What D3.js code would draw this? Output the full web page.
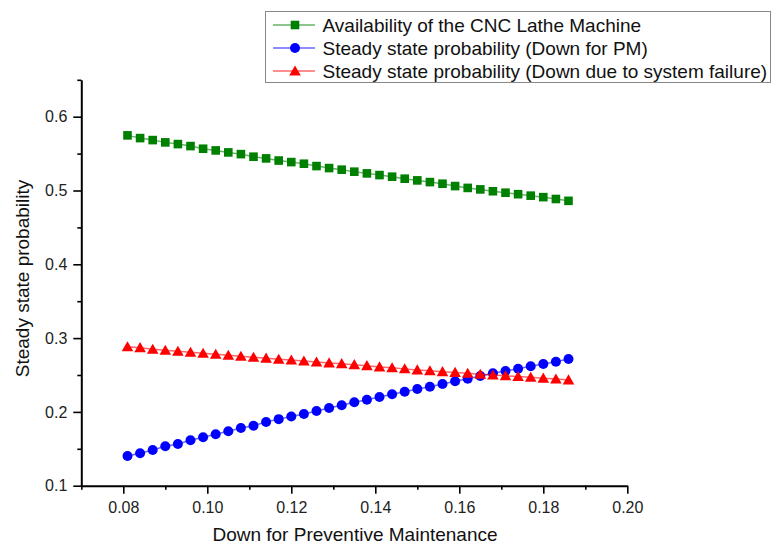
<!DOCTYPE html>
<html>
<head>
<meta charset="utf-8">
<script src="https://cdn.jsdelivr.net/npm/d3@7/dist/d3.min.js"></script>
<style>
  html, body { margin: 0; padding: 0; background: #fff; }
  svg { display: block; }
  text { font-family: "Liberation Sans", Arial, sans-serif; }
</style>
</head>
<body>
<svg id="chart" width="772" height="545"></svg>
<script>
// ---- Data ----
const xValues = [0.081, 0.084, 0.087, 0.090, 0.093, 0.096, 0.099, 0.102, 0.105, 0.108,
                 0.111, 0.114, 0.117, 0.120, 0.123, 0.126, 0.129, 0.132, 0.135, 0.138,
                 0.141, 0.144, 0.147, 0.150, 0.153, 0.156, 0.159, 0.162, 0.165, 0.168,
                 0.171, 0.174, 0.177, 0.180, 0.183, 0.186];

const availability = [0.5747, 0.5710, 0.5683, 0.5652, 0.5629, 0.5602, 0.5566, 0.5543, 0.5516, 0.5493,
                      0.5458, 0.5435, 0.5406, 0.5385, 0.5363, 0.5331, 0.5304, 0.5282, 0.5255, 0.5232,
                      0.5209, 0.5187, 0.5160, 0.5137, 0.5114, 0.5092, 0.5060, 0.5035, 0.5015, 0.4990,
                      0.4970, 0.4950, 0.4930, 0.4910, 0.4885, 0.4860];

const downPM = [0.1402, 0.1439, 0.1484, 0.1534, 0.1565, 0.1615, 0.1656, 0.1696, 0.1737, 0.1782,
                0.1813, 0.1863, 0.1902, 0.1938, 0.1972, 0.2012, 0.2053, 0.2089, 0.2130, 0.2165,
                0.2202, 0.2238, 0.2274, 0.2310, 0.2341, 0.2378, 0.2415, 0.2450, 0.2487, 0.2523,
                0.2554, 0.2585, 0.2618, 0.2649, 0.2680, 0.2717];

const downFailure = [0.2883, 0.2870, 0.2848, 0.2835, 0.2821, 0.2808, 0.2794, 0.2780, 0.2767, 0.2753,
                     0.2740, 0.2728, 0.2712, 0.2703, 0.2690, 0.2676, 0.2663, 0.2653, 0.2640, 0.2626,
                     0.2610, 0.2597, 0.2583, 0.2569, 0.2556, 0.2545, 0.2535, 0.2523, 0.2510, 0.2500,
                     0.2490, 0.2480, 0.2468, 0.2457, 0.2446, 0.2433];

const xTicks = [0.08, 0.10, 0.12, 0.14, 0.16, 0.18, 0.20];
const xMinorTicks = [0.07, 0.09, 0.11, 0.13, 0.15, 0.17, 0.19];
const yTicks = [0.1, 0.2, 0.3, 0.4, 0.5, 0.6];
const yMinorTicks = [0.15, 0.25, 0.35, 0.45, 0.55, 0.65];

const seriesNames = ["Availability of the CNC Lathe Machine",
                     "Steady state probability (Down for PM)",
                     "Steady state probability (Down due to system failure)"];
const seriesColors = ["#008000", "#0000ff", "#ff0000"];
const seriesShapes = ["square", "circle", "triangle"];

// ---- Layout ----
const svg = d3.select("#chart");
const x = d3.scaleLinear().domain([0.07, 0.20]).range([81.3, 627.3]);
const y = d3.scaleLinear().domain([0.1, 0.65]).range([485.7, 79.8]);

const series = [availability, downPM, downFailure].map((vals, i) => ({
  name: seriesNames[i], color: seriesColors[i], shape: seriesShapes[i],
  points: vals.map((v, j) => ({ x: xValues[j], y: v }))
}));

function drawMarker(g, shape, color) {
  if (shape === "square") {
    g.append("rect").attr("x", -4.3).attr("y", -4.3).attr("width", 8.6).attr("height", 8.6).attr("fill", color);
  } else if (shape === "circle") {
    g.append("circle").attr("r", 5).attr("fill", color);
  } else {
    g.append("path").attr("d", "M0,-5.6L5.8,4.5L-5.8,4.5Z").attr("fill", color);
  }
}

// ---- Axes ----
const fontTick = "16px";
svg.append("g").attr("transform", `translate(0,${y(0.1)})`)
  .call(d3.axisBottom(x).tickValues(xTicks).tickFormat(d3.format(".2f")).tickSize(8).tickPadding(8).tickSizeOuter(0));
svg.append("g").attr("transform", `translate(0,${y(0.1)})`)
  .call(d3.axisBottom(x).tickValues(xMinorTicks).tickFormat("").tickSize(4).tickSizeOuter(0))
  .select(".domain").remove();

svg.append("g").attr("transform", `translate(${x(0.07)},0)`)
  .call(d3.axisLeft(y).tickValues(yTicks).tickFormat(d3.format(".1f")).tickSize(8).tickPadding(6).tickSizeOuter(0));
svg.append("g").attr("transform", `translate(${x(0.07)},0)`)
  .call(d3.axisLeft(y).tickValues(yMinorTicks).tickFormat("").tickSize(4).tickSizeOuter(0))
  .select(".domain").remove();

svg.selectAll(".domain").attr("stroke", "#000").attr("stroke-width", 2);
svg.selectAll(".tick line").attr("stroke", "#000").attr("stroke-width", 1.6);
svg.selectAll(".tick text").attr("fill", "#222").style("font-size", fontTick)
  .style("font-family", '"Liberation Sans", Arial, sans-serif');

// Axis titles
svg.append("text")
  .attr("x", 355).attr("y", 541)
  .attr("text-anchor", "middle")
  .style("font-size", "19px").attr("fill", "#111")
  .text("Down for Preventive Maintenance");

svg.append("text")
  .attr("transform", "translate(28.5,278.5) rotate(-90)")
  .attr("text-anchor", "middle")
  .style("font-size", "19px").attr("fill", "#111")
  .text("Steady state probability");

// ---- Series ----
const line = d3.line().x(d => x(d.x)).y(d => y(d.y));
series.forEach(s => {
  svg.append("path").datum(s.points)
    .attr("d", line).attr("fill", "none")
    .attr("stroke", s.color).attr("stroke-width", 1.5).attr("stroke-opacity", 0.6);
  const mg = svg.append("g");
  s.points.forEach(p => {
    const g = mg.append("g").attr("transform", `translate(${x(p.x)},${y(p.y)})`);
    drawMarker(g, s.shape, s.color);
  });
});

// ---- Legend ----
const legend = svg.append("g");
legend.append("rect")
  .attr("x", 265.5).attr("y", 11.5).attr("width", 505).attr("height", 71)
  .attr("fill", "#fff").attr("stroke", "#888").attr("stroke-width", 1);
series.forEach((s, i) => {
  const cy = 25 + i * 23;
  legend.append("line").attr("x1", 273).attr("x2", 315).attr("y1", cy).attr("y2", cy)
    .attr("stroke", s.color).attr("stroke-width", 1.5).attr("stroke-opacity", 0.6);
  const g = legend.append("g").attr("transform", `translate(295,${cy})`);
  drawMarker(g, s.shape, s.color);
  legend.append("text").attr("x", 322.5).attr("y", cy).attr("dy", "0.35em")
    .style("font-size", "19px").attr("fill", "#111").text(s.name);
});
</script>
</body>
</html>
